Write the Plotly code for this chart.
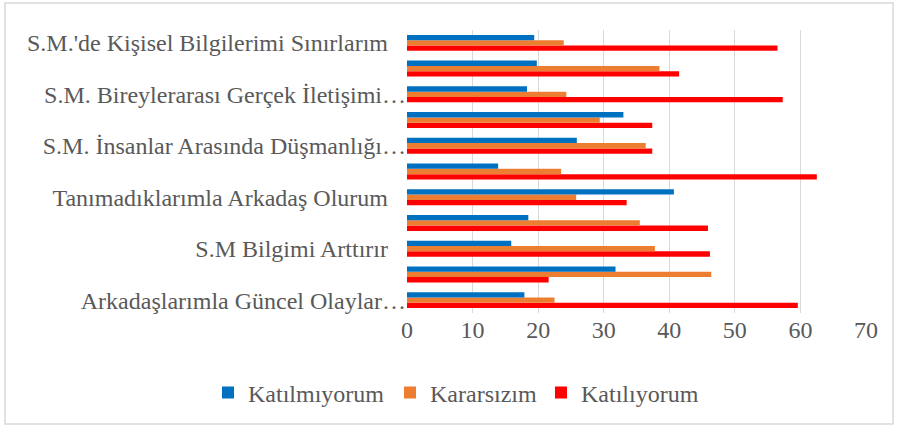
import plotly.graph_objects as go

# categories bottom -> top (numeric positions; only alternate ones labeled)
positions = list(range(11))
tick_positions = [0, 2, 4, 6, 8, 10]
tick_labels = [
    "Arkadaşlarımla Güncel Olaylar…",
    "S.M Bilgimi Arttırır\u00a0\u00a0\u00a0",
    "Tanımadıklarımla Arkadaş Olurum\u00a0\u00a0\u00a0",
    "S.M. İnsanlar Arasında Düşmanlığı…",
    "S.M. Bireylerarası Gerçek İletişimi…",
    "S.M.'de Kişisel Bilgilerimi Sınırlarım\u00a0\u00a0\u00a0",
]

katilmiyorum = [17.9, 31.8, 15.9, 18.5, 40.7, 13.9, 25.9, 33.0, 18.3, 19.8, 19.4]
kararsizim   = [22.5, 46.4, 37.8, 35.5, 25.8, 23.5, 36.4, 29.4, 24.3, 38.5, 23.9]
katiliyorum  = [59.6, 21.6, 46.2, 45.9, 33.5, 62.5, 37.4, 37.4, 57.3, 41.5, 56.5]

x_ticks = [0, 10, 20, 30, 40, 50, 60, 70]

fig = go.Figure()
fig.add_trace(go.Bar(y=positions, x=katiliyorum, orientation="h", name="Katılıyorum",
                     legend="legend3",
                     marker=dict(color="#FF0000", line=dict(width=0))))
fig.add_trace(go.Bar(y=positions, x=kararsizim, orientation="h", name="Kararsızım",
                     legend="legend2",
                     marker=dict(color="#ED7D31", line=dict(width=0))))
fig.add_trace(go.Bar(y=positions, x=katilmiyorum, orientation="h", name="Katılmıyorum",
                     legend="legend",
                     marker=dict(color="#0070C0", line=dict(width=0))))

FF = "Liberation Serif"
FS = 24


def leg(xc):
    return dict(orientation="h", xref="container", yref="container",
                x=xc, xanchor="left", y=0.086, yanchor="middle",
                bgcolor="rgba(0,0,0,0)", itemwidth=30,
                font=dict(family=FF, size=FS, color="#595959"))


fig.update_layout(
    width=897, height=430,
    margin=dict(l=407, r=31, t=30, b=117, autoexpand=False),
    paper_bgcolor="white", plot_bgcolor="white",
    barmode="group", bargap=0.38, bargroupgap=0,
    font=dict(family=FF, size=FS, color="#595959"),
    showlegend=True,
    legend=leg(0.2319),
    legend2=leg(0.4348),
    legend3=leg(0.6031),
    xaxis=dict(range=[0, 70], tickvals=x_ticks, showgrid=True, gridcolor="#D9D9D9",
               gridwidth=1, zeroline=False, showline=False, ticks="",
               tickfont=dict(family=FF, size=FS, color="#595959")),
    yaxis=dict(range=[-0.5, 10.5], tickvals=tick_positions, ticktext=tick_labels,
               showgrid=False, zeroline=False, showline=False, ticks="",
               tickfont=dict(family=FF, size=FS, color="#595959")),
    shapes=[dict(type="rect", xref="paper", yref="paper",
                 x0=-0.876, x1=1.059, y0=-0.392, y1=1.095,
                 line=dict(color="#D9D9D9", width=1.5), fillcolor="rgba(0,0,0,0)",
                 layer="below")],
)

fig.write_html("out.html", config={"displayModeBar": False},
               post_script="document.body.style.margin='0';document.body.style.padding='0';")
